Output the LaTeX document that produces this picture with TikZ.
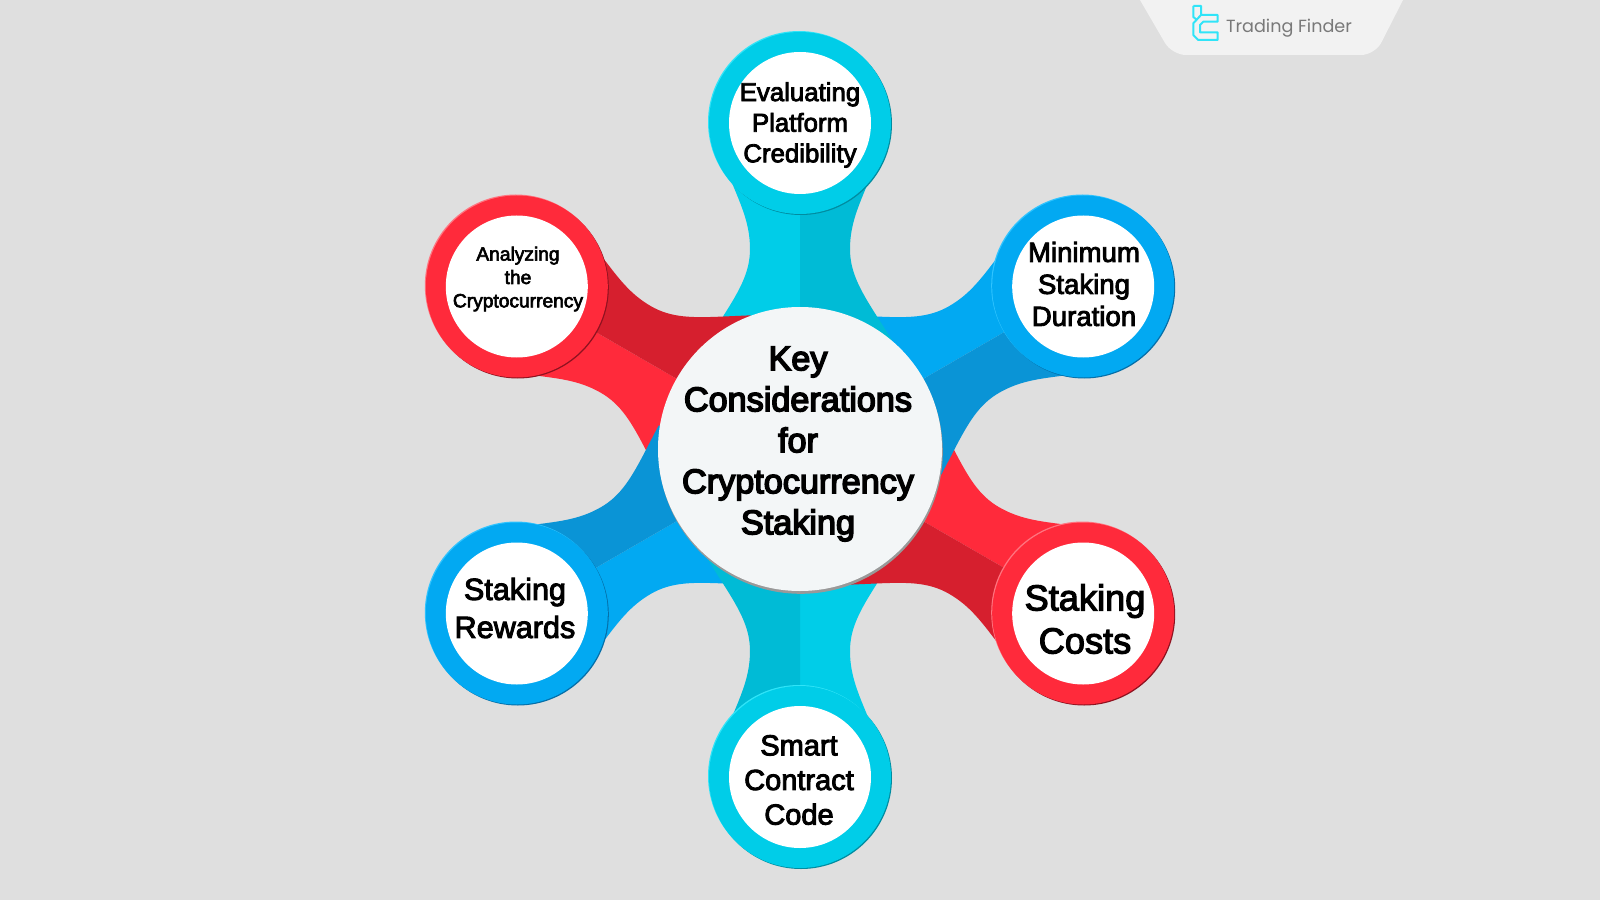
\documentclass[tikz,border=0pt]{standalone}
\usepackage{fontspec}
\setmainfont[FakeBold=3.2]{Liberation Sans}
\newfontfamily\hubfont[FakeBold=4.5]{Liberation Sans}
\newfontfamily\brandfont{Poppins}
\definecolor{backgray}{HTML}{DFDFDF}
\definecolor{tabgray}{HTML}{F2F2F2}
\definecolor{hubfill}{HTML}{F3F6F7}
\definecolor{cyanlit}{HTML}{00CDE8}
\definecolor{cyandrk}{HTML}{00BBD6}
\definecolor{cyanhigh}{HTML}{30E4F8}
\definecolor{cyanshad}{HTML}{008CA0}
\definecolor{bluelit}{HTML}{02A9F2}
\definecolor{bluedrk}{HTML}{0A94D6}
\definecolor{bluehigh}{HTML}{30C4FF}
\definecolor{blueshad}{HTML}{056FA8}
\definecolor{redlit}{HTML}{FF2A3B}
\definecolor{reddrk}{HTML}{D61F2E}
\definecolor{redhigh}{HTML}{FF7580}
\definecolor{redshad}{HTML}{8E1220}
\tikzset{
  discnode/.style={circle,fill=white,inner sep=0pt,minimum size=71pt},
  ringnode/.style={circle,inner sep=0pt,minimum size=91pt},
  labelnode/.style={align=center,text=black},
}
\begin{document}
\begin{tikzpicture}[x=0.5pt,y=0.5pt]
  \useasboundingbox (-800,-450) rectangle (800,450);
  \fill[backgray] (-800,-450) rectangle (800,450);

  % tab and logo
  \fill[tabgray] (340,450) [rounded corners=7pt] -- (372,395) -- (575,395) [sharp corners] -- (603,450) -- cycle;
  \draw[cyanhigh,line width=1pt,line join=round] (393.3,444) -- (401,444) -- (401,435) -- (417.7,435) -- (417.7,428.3) -- (403.3,428.3) -- (400,425) -- (400,417.7) -- (417.7,417.7) -- (417.7,410) -- (398.3,410) -- (393.3,415) -- (393.3,426.7) -- (401,435);
  \draw[cyanhigh,line width=1pt,line join=round] (393.3,444) -- (393.3,433) -- (397,430);
  \node[text=gray!95!black,font=\brandfont\fontsize{8.8}{10}\selectfont,inner sep=0pt] (brand) at (489,421.5) {Trading Finder};

  % arms: pale halves first, then dark halves on top of the next arm
  \foreach \n/\lit in {0/cyanlit,1/bluelit,2/redlit,3/cyanlit,4/bluelit,5/redlit}
    \fill[\lit,rotate=-60*\n,xscale=-1] (0,327) -- (68,267) .. controls (58,243) and (50,225) .. (50,201) .. controls (50,178) and (60,160) .. (78,132) -- (92,110) -- (0,60) -- cycle;
  \foreach \n/\drk in {0/cyandrk,1/bluedrk,2/reddrk,3/cyandrk,4/bluedrk,5/reddrk}
    \fill[\drk,rotate=-60*\n] (0,327) -- (68,267) .. controls (58,243) and (50,225) .. (50,201) .. controls (50,178) and (60,160) .. (78,132) -- (92,110) -- (0,60) -- cycle;

  % rings
  \foreach \a/\name/\lit/\high/\shad in {90/top/cyanlit/cyanhigh/cyanshad,30/upright/bluelit/bluehigh/blueshad,-30/lowright/redlit/redhigh/redshad,-90/bottom/cyanlit/cyanhigh/cyanshad,-150/lowleft/bluelit/bluehigh/blueshad,150/upleft/redlit/redhigh/redshad}{
    \fill[\shad] (\a:327) ++(1,-1) circle (91);
    \fill[\high] (\a:327) ++(-1,1) circle (91);
    \node[ringnode,fill=\lit] (ring\name) at (\a:327) {};
    \node[discnode] (disc\name) at (ring\name) {};
  }

  % centre
  \fill[gray!80] (0.8,-1.8) circle (142);
  \node[circle,fill=hubfill,inner sep=0pt,minimum size=142pt] (hub) at (0,1) {};

  \node[labelnode,font=\hubfont\fontsize{17.1}{20.5}\selectfont] (keytext) at (-2,6) {Key\\Considerations\\for\\Cryptocurrency\\Staking};
  \node[labelnode,font=\fontsize{12.9}{15.3}\selectfont] (evaluating) at (0,325) {Evaluating\\Platform\\Credibility};
  \node[labelnode,font=\fontsize{13.8}{16}\selectfont] (minimum) at (284,166) {Minimum\\Staking\\Duration};
  \node[labelnode,font=\fontsize{18.1}{21.5}\selectfont] (costs) at (285,-169) {Staking\\Costs};
  \node[labelnode,font=\fontsize{14.5}{17.3}\selectfont] (smart) at (-1,-330) {Smart\\Contract\\Code};
  \node[labelnode,font=\fontsize{15.3}{19}\selectfont] (rewards) at (-285,-158) {Staking\\Rewards};
  \node[labelnode,font=\fontsize{9.6}{11.7}\selectfont] (analyzing) at (-282,171) {Analyzing\\the\\Cryptocurrency};
\end{tikzpicture}
\end{document}
